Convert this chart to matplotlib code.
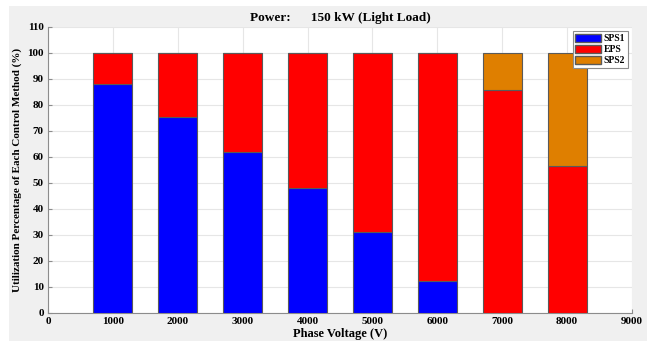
import numpy as np
import matplotlib.pyplot as plt
from matplotlib.patches import Rectangle, Patch

plt.rcParams['font.family'] = ['Liberation Serif', 'DejaVu Serif']
plt.rcParams['font.weight'] = 'bold'

# data
voltages = [1000, 2000, 3000, 4000, 5000, 6000, 7000, 8000]
sps1 = np.array([88, 75.5, 62, 48, 31, 12.5, 0, 0])
eps = np.array([12, 24.5, 38, 52, 69, 87.5, 85.7, 56.5])
sps2 = np.array([0, 0, 0, 0, 0, 0, 14.3, 43.5])
labels = ['SPS1', 'EPS', 'SPS2']
colors = ['#0000ff', '#ff0000', '#df7f00']

fig = plt.figure(figsize=(6.47, 3.41), dpi=100, facecolor='white')
# grey figure panel (screenshot crop leaves a white margin top/left)
fig.patches.append(Rectangle((9 / 647, 0), 1, (341 - 6) / 341,
                             transform=fig.transFigure, facecolor='#f0f0f0',
                             edgecolor='none', zorder=-10))
ax = fig.add_axes([48 / 647, 28 / 341, (632 - 48) / 647, (313 - 27) / 341])

bottom = np.zeros(len(voltages))
for vals, lab, col in zip([sps1, eps, sps2], labels, colors):
    ax.bar(voltages, vals, width=600, bottom=bottom, color=col,
           edgecolor='#5a5a5a', linewidth=0.8, label=lab, zorder=3)
    bottom += vals

ax.set_xlim(0, 9000)
ax.set_ylim(0, 110)
ax.set_xticks(range(0, 9001, 1000))
ax.set_yticks(range(0, 111, 10))
ax.grid(True, color='#e6e6e6', linewidth=0.8, zorder=0)
ax.set_axisbelow(True)
for s in ax.spines.values():
    s.set_color('#8c8c8c')
    s.set_linewidth(0.8)
ax.spines['top'].set_visible(False)
ax.spines['right'].set_visible(False)
ax.tick_params(labelsize=8, length=3, direction='in', color='#8c8c8c', width=0.8, pad=3)

ax.set_title('Power:      150 kW (Light Load)', fontsize=9.5, fontweight='bold', pad=4)
ax.set_xlabel('Phase Voltage (V)', fontsize=9, fontweight='bold', labelpad=1)
ax.set_ylabel('Utilization Percentage of Each Control Method (%)', fontsize=8,
              fontweight='bold', labelpad=4)

handles = [Patch(facecolor=c, edgecolor='#5a5a5a', label=l) for c, l in zip(colors, labels)]
leg = ax.legend(handles=handles, loc='upper right', fontsize=7, frameon=True,
                fancybox=False, edgecolor='#8c8c8c', framealpha=1,
                handlelength=2.6, handleheight=0.9, handletextpad=0.3,
                labelspacing=0.15, borderpad=0.3, borderaxespad=0.4)
leg.get_frame().set_linewidth(0.8)

fig.savefig('out.png', dpi=100, facecolor=fig.get_facecolor())
